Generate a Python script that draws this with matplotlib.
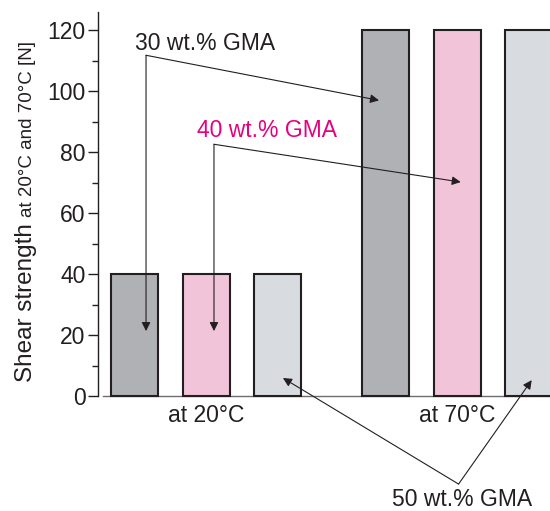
import matplotlib
matplotlib.use("Agg")
import matplotlib.pyplot as plt
from matplotlib.ticker import MultipleLocator

plt.rcParams['font.family'] = ['Liberation Sans', 'DejaVu Sans']

# shear strength [N] for 30 / 40 / 50 wt.% GMA
pos_20 = [0, 1, 2]
pos_70 = [3.5, 4.5, 5.5]
shear_20 = [40, 40, 40]
shear_70 = [120, 120, 120]
temps = ["at 20°C", "at 70°C"]
temp_pos = [1, 4.5]
gma_labels = ["30 wt.% GMA", "40 wt.% GMA", "50 wt.% GMA"]

fill = ["#b0b1b5", "#f2c4da", "#d8dbdf"]
ink = "#231f20"
magenta = "#e6007e"

fig = plt.figure(figsize=(5.5, 5.11), dpi=100)
ax = fig.add_axes([98/550, 115/511, 481/550, 384/511])

ax.bar(pos_20, shear_20, width=0.655, color=fill, edgecolor=ink, lw=1.5, clip_on=False, zorder=3)
ax.bar(pos_70, shear_70, width=0.655, color=fill, edgecolor=ink, lw=1.5, clip_on=False, zorder=3)

# thin grey base line, a bit off the y-axis
ax.plot([-0.44, 6.2], [0, 0], color="#6d6e71", lw=1.0, zorder=2, clip_on=False)

ax.set_xlim(-0.51, 6.2)
ax.set_ylim(0, 126)
for s in ["top", "right", "bottom"]:
    ax.spines[s].set_visible(False)
ax.spines["left"].set_color(ink)
ax.spines["left"].set_linewidth(1.0)

ax.yaxis.set_major_locator(MultipleLocator(20))
ax.yaxis.set_minor_locator(MultipleLocator(10))
ax.tick_params(axis="y", which="major", length=7, width=1.0, colors=ink, labelsize=16.5, pad=2)
ax.tick_params(axis="y", which="minor", length=4, width=1.0, colors=ink)
ax.set_xticks(temp_pos, temps)
ax.tick_params(axis="x", length=0, labelsize=16.5, labelcolor=ink, pad=6)

# y label in two sizes
t1 = fig.text(32/550, 1 - 382/511, "Shear strength", rotation=90, rotation_mode="anchor",
              ha="left", va="baseline", fontsize=17.5, color=ink)
fig.canvas.draw()
bb = t1.get_window_extent()
fig.text(32/550, (bb.y1 + 6)/fig.bbox.height, "at 20°C and 70°C [N]", rotation=90,
         rotation_mode="anchor", ha="left", va="baseline", fontsize=13.5, color=ink)

arrow = dict(arrowstyle="-|>", color=ink, lw=0.8, mutation_scale=13, shrinkA=0, shrinkB=0)

# 30 wt.% GMA
ax.text(0.01, 113.5, gma_labels[0], fontsize=16.5, color=ink, ha="left", va="baseline")
for tgt in [(0.16, 21.3), (3.41, 97.0)]:
    ax.annotate("", xy=tgt, xytext=(0.16, 111.8), arrowprops=arrow, annotation_clip=False)

# 40 wt.% GMA
ax.text(0.87, 84.9, gma_labels[1], fontsize=16.5, color=magenta, ha="left", va="baseline")
for tgt in [(1.108, 21.3), (4.55, 70.2)]:
    ax.annotate("", xy=tgt, xytext=(1.108, 82.6), arrowprops=arrow, annotation_clip=False)

# 50 wt.% GMA
ax.text(3.59, -36.0, gma_labels[2], fontsize=16.5, color=ink, ha="left", va="baseline", clip_on=False)
for tgt in [(2.07, 5.9), (5.54, 5.2)]:
    ax.annotate("", xy=tgt, xytext=(4.52, -28.9), arrowprops=arrow, annotation_clip=False)

fig.savefig("out.png", dpi=100)
